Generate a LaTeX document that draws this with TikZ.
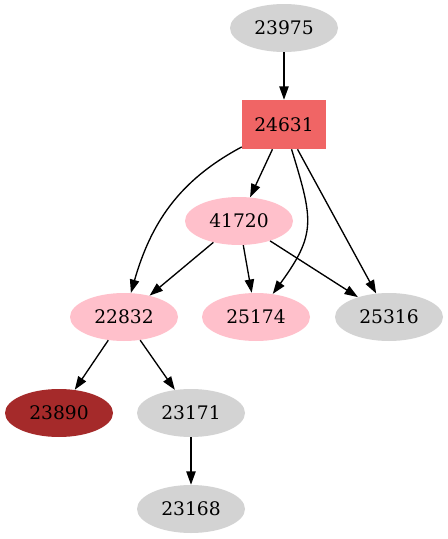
\documentclass[tikz,border=0pt]{standalone}
\usepackage{fontspec}
\setmainfont{DejaVu Serif}
\usepackage{xcolor}
\usepackage{tikz}
\usetikzlibrary{shapes.geometric,arrows.meta}
\definecolor{nodegray}{RGB}{211,211,211}
\definecolor{nodepink}{RGB}{255,192,203}
\definecolor{boxred}{RGB}{240,101,101}
\definecolor{darkbrown}{RGB}{165,42,42}

\begin{document}
\begin{tikzpicture}[x=0.75pt, y=-0.75pt, >={Triangle[length=10pt,width=7pt]},
  oval/.style={ellipse, minimum width=81pt, minimum height=36pt, inner sep=0pt,
               font=\fontsize{14}{16}\selectfont},
  grayoval/.style={oval, fill=nodegray},
  pinkoval/.style={oval, fill=nodepink},
  redbox/.style={rectangle, fill=boxred, minimum width=63pt, minimum height=36.75pt,
                 inner sep=0pt, font=\fontsize{14}{16}\selectfont},
  link/.style={->, line width=1pt}]
  \useasboundingbox (0,0) rectangle (447,539);
  % nodes, one rank per row
  \node[grayoval] (n23975) at (284,28)  {23975};
  \node[redbox]   (n24631) at (284,124.5) {24631};
  \node[pinkoval] (n41720) at (239,221) {41720};
  \node[pinkoval] (n22832) at (124,317) {22832};
  \node[pinkoval] (n25174) at (256,317) {25174};
  \node[grayoval] (n25316) at (389,317) {25316};
  \node[oval, fill=darkbrown] (n23890) at (59,413) {23890};
  \node[grayoval] (n23171) at (191,413) {23171};
  \node[grayoval] (n23168) at (191,509) {23168};
  % edges
  \draw[link] (n23975) -- (n24631);
  \draw[link] (n24631) -- (n41720);
  \draw[link] (n24631) to[out=208, in=74] (n22832);
  \draw[link] (n24631) to[out=287, in=54, looseness=1.3] (n25174);
  \draw[link] (n24631) -- (n25316);
  \draw[link] (n41720) -- (n22832);
  \draw[link] (n41720) -- (n25174);
  \draw[link] (n41720) -- (n25316);
  \draw[link] (n22832) -- (n23890);
  \draw[link] (n22832) -- (n23171);
  \draw[link] (n23171) -- (n23168);
\end{tikzpicture}
\end{document}
